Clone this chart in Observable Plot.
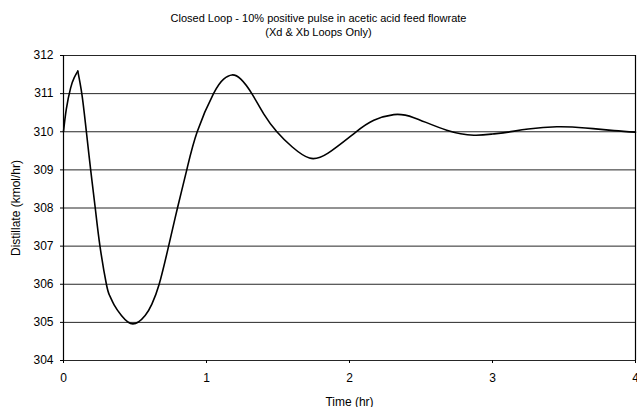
<!DOCTYPE html>
<html><head><meta charset="utf-8">
<script src="https://cdn.jsdelivr.net/npm/d3@7"></script>
<script src="https://cdn.jsdelivr.net/npm/@observablehq/plot@0.6"></script>
<style>
body{margin:0;background:#fff;font-family:"Liberation Sans",Arial,sans-serif;}
#title{width:637px;height:45px;text-align:center;font-size:11px;line-height:14px;padding-top:11px;box-sizing:border-box;color:#000;}
</style></head><body>
<div id="title">Closed Loop - 10% positive pulse in acetic acid feed flowrate<br>(Xd &amp; Xb Loops Only)</div>
<div id="chart"></div>
<script>
const time = [0, 0.02, 0.05, 0.075, 0.1, 0.13, 0.16, 0.19, 0.222, 0.255, 0.3, 0.323, 0.355, 0.405, 0.485, 0.571, 0.618, 0.669, 0.735, 0.797, 0.862, 0.935, 1.049, 1.12, 1.178, 1.24, 1.317, 1.4, 1.492, 1.6, 1.72, 1.85, 2.04, 2.17, 2.31, 2.45, 2.68, 2.87, 3.0, 3.11, 3.25, 3.45, 3.65, 3.85, 4.0];
const distillate = [310.0, 310.6, 311.15, 311.42, 311.59, 310.95, 310.0, 309.0, 308.0, 307.0, 306.0, 305.7, 305.45, 305.18, 304.96, 305.18, 305.48, 306.0, 307.0, 308.0, 309.0, 310.0, 311.0, 311.38, 311.49, 311.38, 311.0, 310.47, 310.0, 309.6, 309.31, 309.44, 309.98, 310.3, 310.45, 310.37, 310.04, 309.91, 309.94, 309.99, 310.07, 310.13, 310.1, 310.03, 309.99];
const yTicks = [304, 305, 306, 307, 308, 309, 310, 311, 312];
const xTicks = [0, 1, 2, 3, 4];
const pulseEnd = 0.1;
const data = time.map((t, i) => ({t, d: distillate[i]}));
const font = '"Liberation Sans", Arial, sans-serif';
const chart = Plot.plot({
  width: 637, height: 362,
  marginTop: 10, marginLeft: 63, marginRight: 2, marginBottom: 47,
  style: {fontFamily: font, fontSize: "12px", color: "#000", background: "#fff", overflow: "visible"},
  x: {domain: [0, 4]},
  y: {domain: [304, 312]},
  marks: [
    Plot.ruleY(yTicks, {stroke: "#000", strokeWidth: 1, strokeOpacity: 0.85}),
    Plot.ruleX([0, 4], {stroke: "#000", strokeWidth: 1.2}),
    Plot.axisY({ticks: yTicks, tickFormat: d3.format("d"), tickSize: 3, tickPadding: 7, label: "Distillate (kmol/hr)", labelAnchor: "center", labelArrow: "none", labelOffset: 52, fontSize: 12}),
    Plot.axisX({ticks: xTicks, tickFormat: d3.format("d"), tickSize: 3, tickPadding: 10, label: "Time (hr)", labelAnchor: "center", labelArrow: "none", labelOffset: 45, fontSize: 12}),
    Plot.line(data, {filter: (p) => p.t <= pulseEnd, x: "t", y: "d", curve: "natural", stroke: "#000", strokeWidth: 1.6}),
    Plot.line(data, {filter: (p) => p.t >= pulseEnd, x: "t", y: "d", curve: "natural", stroke: "#000", strokeWidth: 1.6})
  ]
});
document.getElementById("chart").appendChild(chart);
</script>
</body></html>
